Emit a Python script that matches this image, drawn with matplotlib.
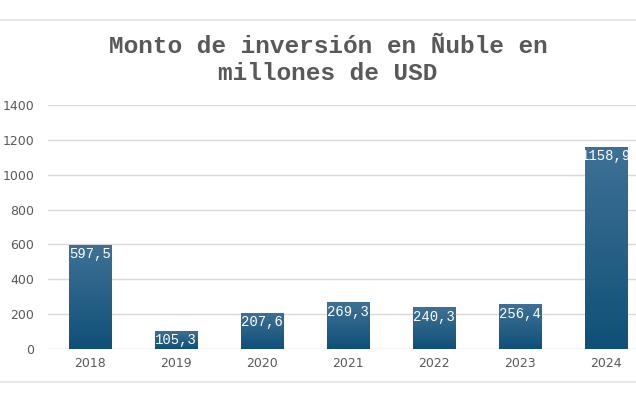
import matplotlib.pyplot as plt
import numpy as np
from matplotlib.lines import Line2D
from matplotlib.colors import LinearSegmentedColormap

# data
years = ['2018', '2019', '2020', '2021', '2022', '2023', '2024']
values = [597.5, 105.3, 207.6, 269.3, 240.3, 256.4, 1158.9]
labels = ['597,5', '105,3', '207,6', '269,3', '240,3', '256,4', '1158,9']

fig = plt.figure(figsize=(6.36, 4.0), dpi=100)
ax = fig.add_axes([0.0755, 0.1275, 0.9245, 0.61])

x = np.arange(len(years))
w = 0.49
bars = ax.bar(x, values, width=w, color='none', edgecolor='none', zorder=3)

# gradient fill for each bar
cmap = LinearSegmentedColormap.from_list('g', ['#0f5078', '#3f7196'])
grad = np.linspace(0, 1, 256).reshape(-1, 1)
for b in bars:
    x0, y0 = b.get_x(), b.get_y()
    im = ax.imshow(grad, extent=[x0, x0 + b.get_width(), y0, y0 + b.get_height()],
                   origin='lower', cmap=cmap, aspect='auto', zorder=3)
    im.set_clip_path(b)

for xi, v, lab in zip(x, values, labels):
    ax.text(xi, v - 14, lab, ha='center', va='top', color='white',
            family='Liberation Mono', fontsize=10, zorder=4)

ax.set_xlim(-0.49, 6.35)
ax.set_ylim(0, 1400)
ax.set_yticks(range(0, 1401, 200))
ax.set_xticks(x)
ax.set_xticklabels(years)
ax.grid(axis='y', color='#d9d9d9', linewidth=1, zorder=0)
for s in ax.spines.values():
    s.set_visible(False)
ax.tick_params(length=0, colors='#595959', labelsize=9)
ax.tick_params(axis='y', pad=10)
ax.tick_params(axis='x', pad=6)

fig.text(0.516, 0.85, 'Monto de inversión en Ñuble en\nmillones de USD',
         ha='center', va='center', family='Liberation Mono', fontweight='bold',
         fontsize=17.6, color='#595959', linespacing=1.2)

fig.add_artist(Line2D([0, 1], [0.95, 0.95], color='#e3e3e3', linewidth=1.2))
fig.add_artist(Line2D([0, 1], [0.045, 0.045], color='#e3e3e3', linewidth=1.2))

fig.savefig('out.png', dpi=100)
